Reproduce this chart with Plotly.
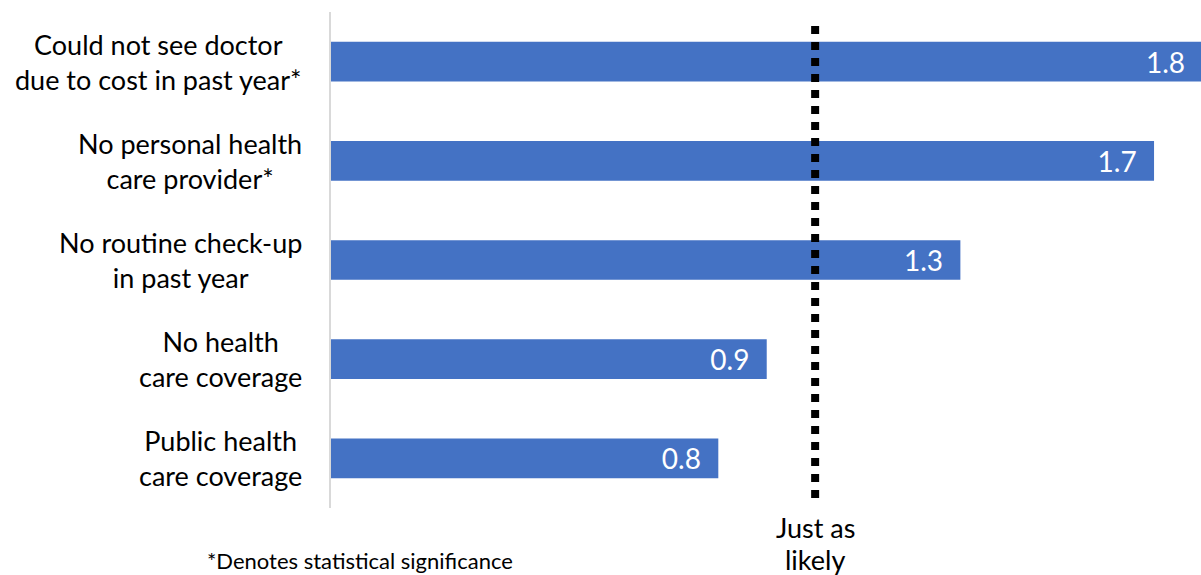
import plotly.graph_objects as go

# Odds ratios by health care access measure
categories = [
    "Could not see doctor<br>due to cost in past year*",
    "No personal health<br>care provider*",
    "No routine check-up<br>in past year",
    "No health<br>care coverage",
    "Public health<br>care coverage",
]
values = [1.8, 1.7, 1.3, 0.9, 0.8]
value_labels = ["1.8", "1.7", "1.3", "0.9", "0.8"]
reference_value = 1.0
reference_label = ["Just as", "likely"]

BAR_COLOR = "#4472C4"
FONT = "Lato, Carlito, Calibri, sans-serif"
PAD = "\u00a0\u00a0"

positions = list(range(len(categories)))

fig = go.Figure()
fig.add_trace(go.Bar(
    x=values,
    y=positions,
    orientation="h",
    width=0.4,
    marker=dict(color=BAR_COLOR, line=dict(width=0)),
    text=[lbl + PAD for lbl in value_labels],
    textposition="inside",
    insidetextanchor="end",
    textfont=dict(color="white", size=28, family=FONT),
    hoverinfo="skip",
))

# Category labels, centred multi-line text right of the axis
for pos, label in zip(positions, categories):
    fig.add_annotation(
        x=0, xref="paper", y=pos, yref="y",
        text=label, showarrow=False,
        xanchor="right", yanchor="middle", align="center",
        xshift=-27,
        font=dict(size=27, family=FONT, color="black"),
    )

# "Just as likely" reference line
fig.add_shape(
    type="line", xref="x", yref="y",
    x0=reference_value, x1=reference_value, y0=-0.36, y1=4.4,
    line=dict(color="black", width=8, dash="dot"),
)
for line_text, ypos in zip(reference_label, [-0.040, -0.103]):
    fig.add_annotation(
        x=reference_value, xref="x", y=ypos, yref="paper",
        text=line_text, showarrow=False,
        xanchor="center", yanchor="middle", align="center",
        font=dict(size=27, family=FONT, color="black"),
    )
fig.add_annotation(
    x=-0.145, xref="paper", y=-0.075, yref="paper",
    text="*Denotes statistical significance", showarrow=False,
    xanchor="left", yanchor="top", align="left",
    font=dict(size=22, family=FONT, color="black"),
)

fig.update_layout(
    width=1201, height=575,
    margin=dict(l=331, r=0, t=12, b=67),
    paper_bgcolor="white", plot_bgcolor="white",
    showlegend=False,
    uniformtext=dict(mode="show", minsize=28),
    xaxis=dict(range=[0, 1.797], showgrid=False, zeroline=False,
               showticklabels=False, ticks="", showline=False),
    yaxis=dict(range=[4.5, -0.5], showgrid=False, zeroline=False,
               showticklabels=False, ticks="",
               showline=True, linecolor="#D9D9D9", linewidth=2),
)

fig.write_html("out.html")
